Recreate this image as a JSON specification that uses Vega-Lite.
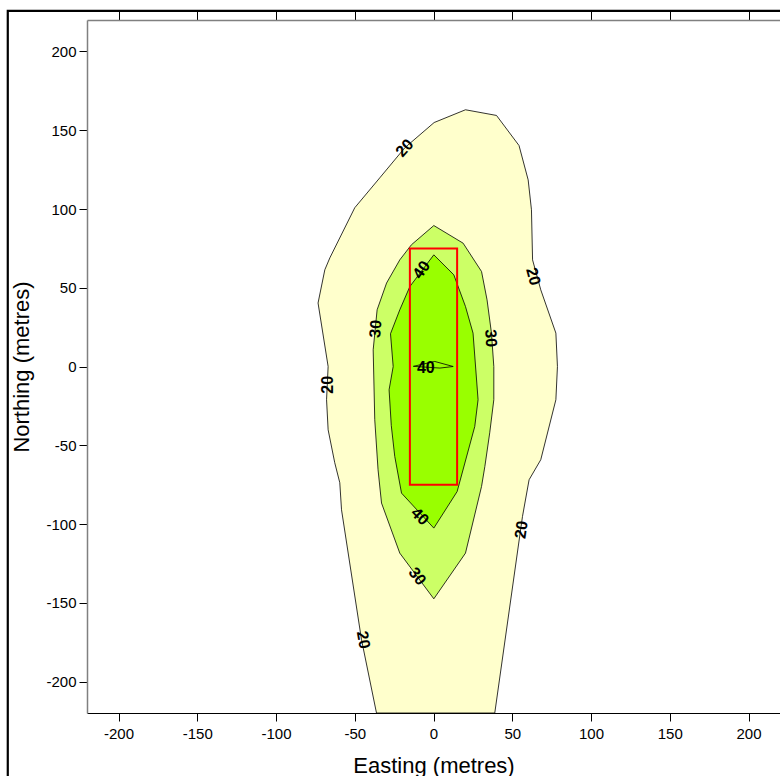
{
  "$schema": "https://vega.github.io/schema/vega-lite/v6.json",
  "width": 693,
  "height": 693,
  "autosize": {"type": "none"},
  "padding": {"left": 87, "top": 20, "right": 0, "bottom": 63},
  "background": "white",
  "config": {
    "view": {"stroke": null},
    "axis": {
      "grid": false,
      "labelFont": "Liberation Sans",
      "titleFont": "Liberation Sans",
      "labelFontSize": 15,
      "titleFontSize": 22,
      "titleFontWeight": "normal",
      "labelColor": "black",
      "titleColor": "black",
      "tickColor": "black",
      "tickSize": 8,
      "domainColor": "black"
    }
  },
  "datasets": {
    "contours": [
      {"c": "c20", "seq": 1, "x": -36.2, "y": -220},
      {"c": "c20", "seq": 2, "x": -45.7, "y": -173.5},
      {"c": "c20", "seq": 3, "x": -58.4, "y": -91},
      {"c": "c20", "seq": 4, "x": -59.5, "y": -73.8},
      {"c": "c20", "seq": 5, "x": -62.7, "y": -61.1},
      {"c": "c20", "seq": 6, "x": -66.9, "y": -40.2},
      {"c": "c20", "seq": 7, "x": -67.9, "y": -21.1},
      {"c": "c20", "seq": 8, "x": -66.9, "y": 0},
      {"c": "c20", "seq": 9, "x": -73.3, "y": 40.3},
      {"c": "c20", "seq": 10, "x": -69, "y": 61.4},
      {"c": "c20", "seq": 11, "x": -65.8, "y": 69},
      {"c": "c20", "seq": 12, "x": -50, "y": 100.8},
      {"c": "c20", "seq": 13, "x": -34.1, "y": 119.8},
      {"c": "c20", "seq": 14, "x": -18.2, "y": 138.9},
      {"c": "c20", "seq": 15, "x": 0.4, "y": 154.9},
      {"c": "c20", "seq": 16, "x": 20.3, "y": 163},
      {"c": "c20", "seq": 17, "x": 40, "y": 159.4},
      {"c": "c20", "seq": 18, "x": 54.3, "y": 140.3},
      {"c": "c20", "seq": 19, "x": 60.1, "y": 118.5},
      {"c": "c20", "seq": 20, "x": 62.2, "y": 99.5},
      {"c": "c20", "seq": 21, "x": 62.9, "y": 67.7},
      {"c": "c20", "seq": 22, "x": 68.1, "y": 48.7},
      {"c": "c20", "seq": 23, "x": 77.7, "y": 21.2},
      {"c": "c20", "seq": 24, "x": 78.7, "y": 0},
      {"c": "c20", "seq": 25, "x": 77.7, "y": -21.1},
      {"c": "c20", "seq": 26, "x": 68.1, "y": -59.2},
      {"c": "c20", "seq": 27, "x": 60.7, "y": -71.9},
      {"c": "c20", "seq": 28, "x": 56.5, "y": -95.2},
      {"c": "c20", "seq": 29, "x": 38.9, "y": -220},
      {"c": "c20", "seq": 30, "x": -36.2, "y": -220},

      {"c": "c30", "seq": 1, "x": 0.2, "y": 89.5},
      {"c": "c30", "seq": 2, "x": 18.8, "y": 78.3},
      {"c": "c30", "seq": 3, "x": 30.5, "y": 60.3},
      {"c": "c30", "seq": 4, "x": 34, "y": 42.3},
      {"c": "c30", "seq": 5, "x": 36.8, "y": 21.2},
      {"c": "c30", "seq": 6, "x": 38.3, "y": 0},
      {"c": "c30", "seq": 7, "x": 38.3, "y": -21.1},
      {"c": "c30", "seq": 8, "x": 35.7, "y": -42.1},
      {"c": "c30", "seq": 9, "x": 32.6, "y": -63.5},
      {"c": "c30", "seq": 10, "x": 30.5, "y": -76.2},
      {"c": "c30", "seq": 11, "x": 20.3, "y": -118.5},
      {"c": "c30", "seq": 12, "x": 0.2, "y": -147.5},
      {"c": "c30", "seq": 13, "x": -21.4, "y": -118.5},
      {"c": "c30", "seq": 14, "x": -33, "y": -86.7},
      {"c": "c30", "seq": 15, "x": -35.2, "y": -65.6},
      {"c": "c30", "seq": 16, "x": -37.3, "y": -33.8},
      {"c": "c30", "seq": 17, "x": -38.3, "y": 10.6},
      {"c": "c30", "seq": 18, "x": -35.8, "y": 36},
      {"c": "c30", "seq": 19, "x": -29.8, "y": 53},
      {"c": "c30", "seq": 20, "x": -21.4, "y": 67.7},
      {"c": "c30", "seq": 21, "x": -14, "y": 77.3},
      {"c": "c30", "seq": 22, "x": 0.2, "y": 89.5},

      {"c": "c40", "seq": 1, "x": 0.2, "y": 70.9},
      {"c": "c40", "seq": 2, "x": 12.9, "y": 58.2},
      {"c": "c40", "seq": 3, "x": 20.3, "y": 38.1},
      {"c": "c40", "seq": 4, "x": 25.1, "y": 21.2},
      {"c": "c40", "seq": 5, "x": 28.3, "y": -21.1},
      {"c": "c40", "seq": 6, "x": 26.2, "y": -38.1},
      {"c": "c40", "seq": 7, "x": 15, "y": -79.4},
      {"c": "c40", "seq": 8, "x": 0.2, "y": -102.6},
      {"c": "c40", "seq": 9, "x": -20.3, "y": -80.4},
      {"c": "c40", "seq": 10, "x": -24.6, "y": -57.1},
      {"c": "c40", "seq": 11, "x": -26.8, "y": -37.5},
      {"c": "c40", "seq": 12, "x": -28.2, "y": -14.8},
      {"c": "c40", "seq": 13, "x": -25.6, "y": 0},
      {"c": "c40", "seq": 14, "x": -27.3, "y": 20.8},
      {"c": "c40", "seq": 15, "x": -21.4, "y": 36},
      {"c": "c40", "seq": 16, "x": -15, "y": 50.8},
      {"c": "c40", "seq": 17, "x": 0.2, "y": 70.9},

      {"c": "c40b", "seq": 1, "x": -12.8, "y": 0.1},
      {"c": "c40b", "seq": 2, "x": 0.8, "y": 3.2},
      {"c": "c40b", "seq": 3, "x": 12.5, "y": 0},
      {"c": "c40b", "seq": 4, "x": 4.1, "y": -1.0},
      {"c": "c40b", "seq": 5, "x": -12.8, "y": 0.1}
    ],
    "labels": [
      {"t": "20", "x": -18.2, "y": 138.7, "a": -48},
      {"t": "20", "x": 63.2, "y": 57.1, "a": 75},
      {"t": "20", "x": -66.9, "y": -11.6, "a": -90},
      {"t": "20", "x": 55.9, "y": -103.7, "a": -82},
      {"t": "20", "x": -44.7, "y": -173.5, "a": 80},
      {"t": "30", "x": -36.6, "y": 23.9, "a": -85},
      {"t": "30", "x": 36.4, "y": 18, "a": 87},
      {"t": "30", "x": -10.4, "y": -133.3, "a": 52},
      {"t": "40", "x": -7.6, "y": 61.4, "a": -55},
      {"t": "40", "x": -4.9, "y": -1, "a": 0},
      {"t": "40", "x": -8.7, "y": -95.2, "a": 45}
    ],
    "site": [
      {"x1": -15, "x2": 15, "y1": -75, "y2": 75}
    ]
  },
  "layer": [
    {
      "data": {"name": "contours"},
      "transform": [{"filter": "datum.c === 'c20'"}],
      "mark": {"type": "line", "fill": "#FFFFCC", "stroke": "black", "strokeWidth": 0.8, "interpolate": "linear"},
      "encoding": {
        "x": {
          "field": "x", "type": "quantitative",
          "scale": {"domain": [-220, 220], "nice": false, "zero": false},
          "axis": {
            "orient": "bottom",
            "values": [-200, -150, -100, -50, 0, 50, 100, 150, 200],
            "labelExpr": "'' + datum.value",
            "title": "Easting (metres)",
            "labelPadding": 5,
            "titlePadding": 14,
            "domainColor": "black",
            "domainWidth": 1.2
          }
        },
        "y": {
          "field": "y", "type": "quantitative",
          "scale": {"domain": [-220, 220], "nice": false, "zero": false},
          "axis": {
            "orient": "left",
            "values": [-200, -150, -100, -50, 0, 50, 100, 150, 200],
            "labelExpr": "'' + datum.value",
            "title": "Northing (metres)",
            "labelPadding": 3,
            "titlePadding": 12,
            "domainColor": "#808080",
            "domainWidth": 1.5
          }
        },
        "order": {"field": "seq", "type": "quantitative"}
      }
    },
    {
      "data": {"name": "contours"},
      "transform": [{"filter": "datum.c === 'c30'"}],
      "mark": {"type": "line", "fill": "#CCFF66", "stroke": "black", "strokeWidth": 0.8, "interpolate": "linear"},
      "encoding": {
        "x": {
          "field": "x", "type": "quantitative",
          "axis": {
            "orient": "top",
            "values": [-200, -150, -100, -50, 0, 50, 100, 150, 200],
            "labels": false,
            "title": null,
            "tickSize": 9,
            "domainColor": "#808080",
            "domainWidth": 1.5
          }
        },
        "y": {"field": "y", "type": "quantitative"},
        "order": {"field": "seq", "type": "quantitative"}
      }
    },
    {
      "data": {"name": "contours"},
      "transform": [{"filter": "datum.c === 'c40' || datum.c === 'c40b'"}],
      "mark": {"type": "line", "fill": "#99FF00", "stroke": "black", "strokeWidth": 0.8, "interpolate": "linear"},
      "encoding": {
        "x": {"field": "x", "type": "quantitative", "axis": null},
        "y": {"field": "y", "type": "quantitative"},
        "detail": {"field": "c"},
        "order": {"field": "seq", "type": "quantitative"}
      }
    },
    {
      "data": {"name": "site"},
      "mark": {"type": "rect", "fillOpacity": 0, "stroke": "#FF0000", "strokeWidth": 2},
      "encoding": {
        "x": {"field": "x1", "type": "quantitative", "axis": null},
        "x2": {"field": "x2"},
        "y": {"field": "y1", "type": "quantitative"},
        "y2": {"field": "y2"}
      }
    },
    {
      "data": {"name": "labels"},
      "mark": {"type": "text", "font": "Liberation Sans", "fontWeight": "bold", "fontSize": 16, "color": "black", "align": "center", "baseline": "middle"},
      "encoding": {
        "x": {"field": "x", "type": "quantitative", "axis": null},
        "y": {"field": "y", "type": "quantitative"},
        "text": {"field": "t"},
        "angle": {"field": "a", "type": "quantitative", "scale": null}
      }
    },
    {
      "data": {"values": [{}]},
      "mark": {"type": "rect", "fillOpacity": 0, "stroke": "black", "strokeWidth": 2.2, "clip": false},
      "encoding": {
        "x": {"datum": -270.3, "type": "quantitative", "axis": null},
        "x2": {"datum": 300},
        "y": {"datum": 225.8, "type": "quantitative"},
        "y2": {"datum": -300}
      }
    }
  ]
}
